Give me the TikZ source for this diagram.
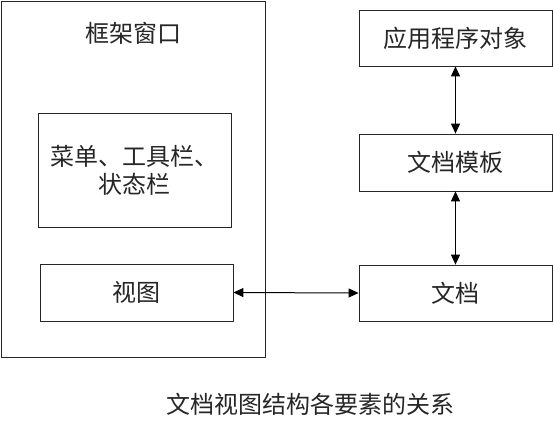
\documentclass[tikz,border=0pt]{standalone}
\usepackage{fontspec}
\newfontfamily\cjk{Noto Sans CJK SC}
\usetikzlibrary{arrows.meta}
\begin{document}
\begin{tikzpicture}[x=1pt,y=-1pt,
  box/.style={draw=black!85, line width=0.8pt, inner sep=0pt, anchor=center},
  lbl/.style={font=\cjk\fontsize{24}{28}\selectfont, text=black!85, inner sep=0pt},
  link/.style={line width=1pt, {Triangle[length=10pt,width=9pt]}-{Triangle[length=10pt,width=9pt]}}]
\useasboundingbox (0,0) rectangle (553,423);
\node[box, minimum width=264pt, minimum height=356pt] (frame) at (133,179) {};
\node[lbl] (ftitle) at (133,33) {框架窗口};
\node[box, lbl, minimum width=193pt, minimum height=114pt, align=center] (menu) at (134.5,170) {菜单、工具栏、\\状态栏};
\node[box, lbl, minimum width=193pt, minimum height=57pt] (view) at (136.5,292.5) {视图};
\node[box, lbl, minimum width=193pt, minimum height=56pt] (app) at (455.5,38) {应用程序对象};
\node[box, lbl, minimum width=193pt, minimum height=57pt] (tmpl) at (455.5,162.5) {文档模板};
\node[box, lbl, minimum width=193pt, minimum height=56pt] (doc) at (455.5,293) {文档};
\node[lbl] (cap) at (310,404) {文档视图结构各要素的关系};
\draw[link] (app.south) -- (tmpl.north);
\draw[link] (tmpl.south) -- (doc.north);
\draw[link] (view.east) -- (doc.west);
\end{tikzpicture}
\end{document}
